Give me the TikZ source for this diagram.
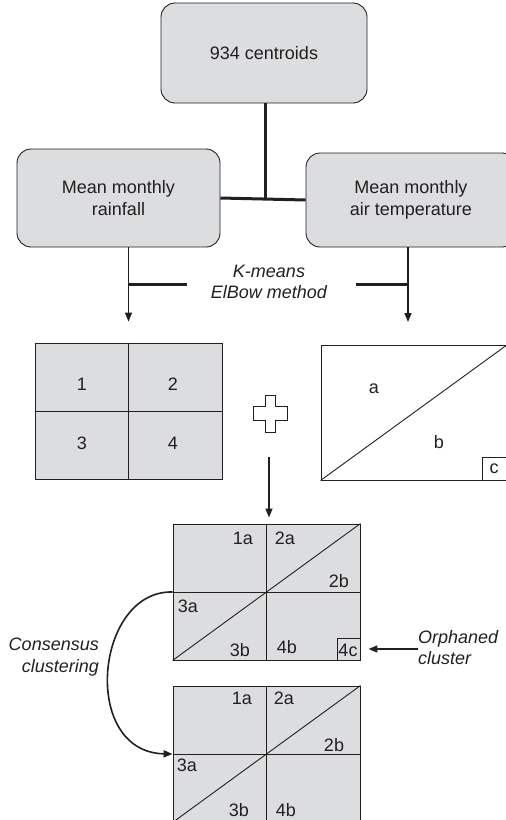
\documentclass[tikz,border=0pt]{standalone}
\usepackage{fontspec}
\setmainfont{Liberation Sans}
\usetikzlibrary{arrows.meta}
\definecolor{boxgray}{HTML}{DCDDDF}
\definecolor{ink}{HTML}{231F20}
\begin{document}
\begin{tikzpicture}[x=1pt,y=-1pt,
  txt/.style={font=\fontsize{18}{21.7}\selectfont, text=ink, inner sep=0pt, align=center},
  itxt/.style={font=\fontsize{18}{21.7}\selectfont\itshape, text=ink, inner sep=0pt},
  rbox/.style={draw=ink, fill=boxgray, rounded corners=14pt, line width=0.9pt, txt, inner sep=0pt},
  grid/.style={draw=ink, fill=boxgray, line width=0.9pt, minimum width=187pt, minimum height=136pt, inner sep=0pt},
  thin/.style={draw=ink, line width=0.9pt},
  heavy/.style={draw=ink, line width=3pt},
  arr/.style={draw=ink, line width=1.6pt, -{Triangle[length=9pt,width=7pt]}},
  lbl/.style={txt}]
\useasboundingbox (0,0) rectangle (506,820);

% top boxes
\node[rbox, minimum width=206pt, minimum height=100pt] (top) at (264,53) {934 centroids};
\node[rbox, minimum width=203pt, minimum height=98pt] (lb) at (118.5,198) {Mean monthly\\rainfall};
\node[rbox, minimum width=210pt, minimum height=94pt] (rb) at (411,200) {Mean monthly\\air temperature};

\coordinate (j) at (265,199);
\draw[heavy] (top.south -| j) -- (j);
\draw[heavy] (lb.east) -- (rb.west);

% K-means arrows
\node[grid] (g0) at (128.5,411) {};
\draw[arr] (lb.south -| g0.north) -- ([yshift=21pt]g0.north);
\coordinate (lj) at (128,284);
\coordinate (lk) at (187,284);
\draw[heavy] (lj) -- (lk);

\coordinate (ra0) at (408,247);
\coordinate (ra) at (408,322);
\draw[arr] (ra0) -- (ra);
\coordinate (rj) at (408,284);
\coordinate (rk) at (356,284);
\draw[heavy] (rj) -- (rk);

\node[itxt, align=center] (km) at (269,282) {K-means\\ElBow method};

% grid 1-4
\draw[thin] (g0.north) -- (g0.south);
\draw[thin] (g0.west) -- (g0.east);
\node[lbl] (n1) at (82,384) {1};
\node[lbl] (n2) at (173,384) {2};
\node[lbl] (n3) at (82,443) {3};
\node[lbl] (n4) at (173,443) {4};

% plus
\draw[thin, fill=white, line width=0.8pt] (265,395) -- (275,395) -- (275,406.7) -- (287,406.7) -- (287,420) -- (275,420) -- (275,432) -- (265,432) -- (265,420) -- (253,420) -- (253,406.7) -- (265,406.7) -- cycle;
\coordinate (plusbot) at (269,457);

% triangle panel
\node[draw=ink, fill=white, line width=0.9pt, minimum width=186pt, minimum height=135pt, inner sep=0pt] (tri) at (414,412.5) {};
\draw[thin] (tri.south west) -- (tri.north east);
\node[lbl] (na) at (374,389) {a};
\node[lbl] (nb) at (439,442) {b};
\node[draw=ink, line width=0.9pt, minimum width=25pt, minimum height=23pt, inner sep=0pt, anchor=south east] (cbox) at (tri.south east) {};
\node[lbl] (nc) at (494,469) {c};

% combined grid 1
\node[grid] (g1) at (266.5,592) {};
\draw[arr] (plusbot) -- ([yshift=6pt]plusbot |- g1.north);
\draw[thin] (g1.north) -- (g1.south);
\draw[thin] (g1.west) -- (g1.east);
\draw[thin] (g1.south west) -- (g1.north east);
\node[lbl] at (243,538) {1a};
\node[lbl] at (285,538) {2a};
\node[lbl] at (339,581) {2b};
\node[lbl] at (188,606) {3a};
\node[lbl] at (240,650) {3b};
\node[lbl] at (287,647) {4b};
\node[draw=ink, line width=0.9pt, minimum width=23pt, minimum height=22pt, inner sep=0pt, anchor=south east] (c4) at (g1.south east) {};
\node[lbl] at (348,650) {4c};

% combined grid 2
\node[grid] (g2) at (266.5,754) {};
\draw[thin] (g2.north) -- (g2.south);
\draw[thin] (g2.west) -- (g2.east);
\draw[thin] (g2.south west) -- (g2.north east);
\node[lbl] at (242,698) {1a};
\node[lbl] at (284,698) {2a};
\node[lbl] at (334,745) {2b};
\node[lbl] at (187,765) {3a};
\node[lbl] at (239,810) {3b};
\node[lbl] at (286,810) {4b};

% consensus
\draw[arr] (g1.west) .. controls (95,590) and (80,752) .. (g2.west);
\node[itxt, align=right, anchor=east] (cons) at (99,657) {Consensus\\clustering};

% orphaned
\node[itxt, align=left, anchor=west] (orph) at (418,647.5) {Orphaned\\cluster};
\draw[arr] (orph.west |- c4.east) -- ([xshift=8pt]c4.east);
\end{tikzpicture}
\end{document}
